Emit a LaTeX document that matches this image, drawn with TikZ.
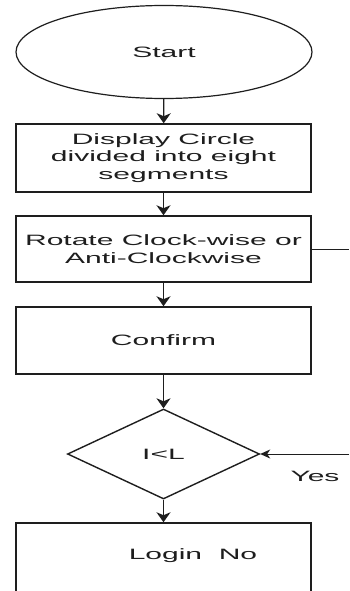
\documentclass[tikz,border=0pt]{standalone}
\usepackage{fontspec}
\setmainfont{Liberation Sans}[FakeStretch=2.0]
\usetikzlibrary{shapes.geometric,arrows.meta}
\definecolor{ink}{HTML}{1E1E1E}
\begin{document}
\begin{tikzpicture}[x=1pt,y=-1pt,
  every node/.style={font=\fontsize{15}{17.5}\selectfont, text=ink},
  box/.style={draw=ink, line width=1.5pt, rectangle, minimum width=295pt, inner sep=0pt, align=center},
  arr/.style={draw=ink, line width=1.4pt, -{Stealth[length=10pt,width=14pt,inset=3pt]}},
  link/.style={draw=ink, line width=1pt}
  ]
\useasboundingbox[fill=white] (0,0) rectangle (349,591);
\node[ellipse, draw=ink, line width=1.2pt, minimum width=296pt, minimum height=93pt, inner sep=0pt] (start) at (164,52) {Start};
\node[box, minimum height=68pt] (disp) at (163.5,158) {Display Circle\\divided into eight\\segments};
\node[box, minimum height=66pt] (rot) at (163.5,249) {Rotate Clock-wise or\\Anti-Clockwise};
\node[box, minimum height=67pt] (conf) at (163.5,340.5) {Confirm};
\node[diamond, draw=ink, line width=1.4pt, minimum width=192pt, minimum height=90pt, aspect=2.13, inner sep=0pt] (dec) at (163.5,454) {I<L};
\node[box, minimum height=72pt] (login) at (163.5,559) {};
\node (logintxt) at (193,556) {Login\ \ No};
\node (yes) at (315,476) {Yes};
\coordinate (rside) at (349,249);
\coordinate (yside) at (349,454);
\draw[arr] (start) -- (disp);
\draw[arr] (disp) -- (rot);
\draw[arr] (rot) -- (conf);
\draw[arr] (conf) -- (dec);
\draw[arr] (dec) -- (login);
\draw[link] (rot.east) -- (rside);
\draw[link, -{Stealth[length=10pt,width=9pt,inset=3pt]}] (yside) -- (dec.east);
\end{tikzpicture}
\end{document}
